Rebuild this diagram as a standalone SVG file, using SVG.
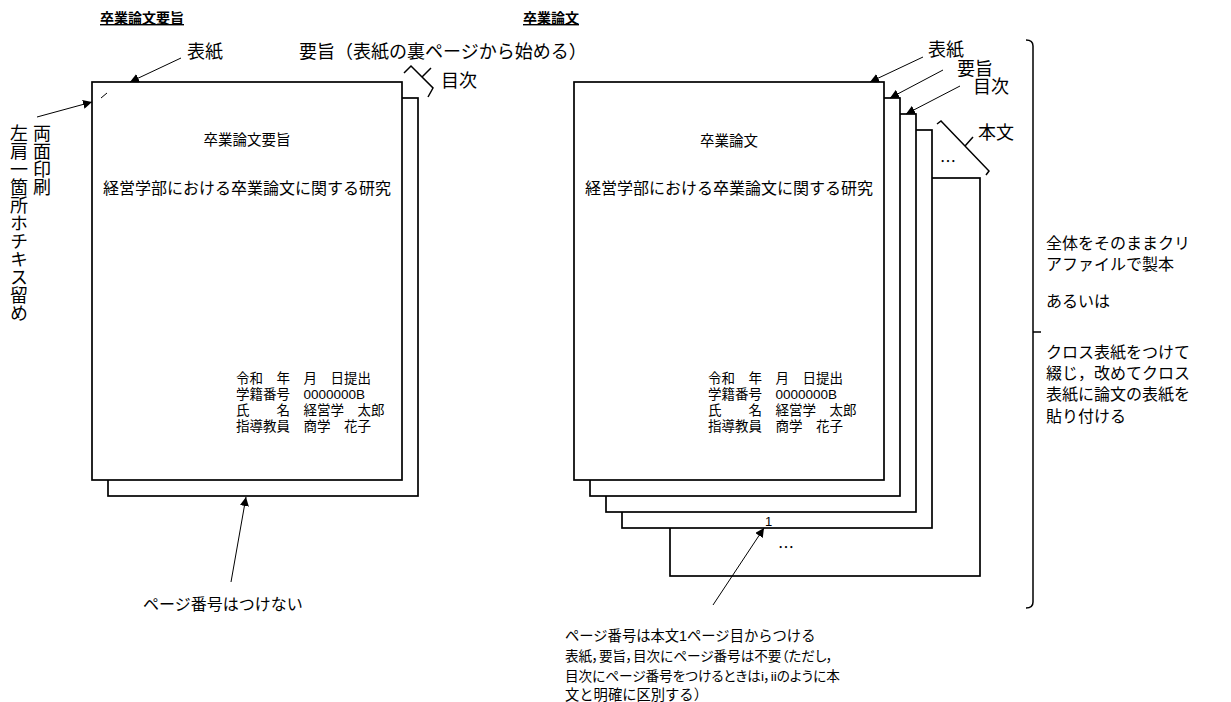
<svg xmlns="http://www.w3.org/2000/svg" width="1231" height="702" viewBox="0 0 1231 702">
<style>
text { font-family: "Liberation Sans", "Noto Sans CJK JP", sans-serif; fill: #000; }
.lbl { font-size: 18px; }
.lbl16 { font-size: 16px; }
.note { font-size: 14.3px; }
.notep { font-size: 13.6px; font-feature-settings: "palt"; }
.ttl { font-size: 14px; font-weight: bold; text-decoration: underline; }
.pt1 { font-size: 14.5px; text-anchor: middle; }
.pt2 { font-size: 16px; text-anchor: middle; }
.info { font-size: 13.5px; }
.vt { font-size: 18px; writing-mode: tb; }
.page { fill: #fff; stroke: #000; stroke-width: 1.7; }
.ln { stroke: #000; stroke-width: 1; fill: none; }
.br { stroke: #000; stroke-width: 1.5; fill: none; }
.dots { font-family: "Noto Sans CJK JP", sans-serif; font-size: 16px; text-anchor: middle; }
</style>
<defs>
<marker id="ah" viewBox="0 0 10 10" refX="10" refY="5" markerWidth="9" markerHeight="9" markerUnits="userSpaceOnUse" orient="auto">
<path d="M0,0 L10,5 L0,10 z" fill="#000"/>
</marker>
</defs>
<rect width="1231" height="702" fill="#fff"/>

<g id="title-left"><text class="ttl" x="100" y="23">卒業論文要旨</text></g>
<g id="title-right"><text class="ttl" x="523" y="23">卒業論文</text></g>

<g id="summary-doc">
<rect class="page" x="108" y="98" width="310" height="398"/>
<rect class="page" x="92" y="82" width="310" height="398"/>
<line class="ln" x1="101" y1="98" x2="107" y2="93"/>
<text class="pt1" x="247" y="145">卒業論文要旨</text>
<text class="pt2" x="247" y="194">経営学部における卒業論文に関する研究</text>
<text class="info" x="236" y="383">令和　年　月　日提出</text>
<text class="info" x="236" y="399">学籍番号　0000000B</text>
<text class="info" x="236" y="414.5">氏　　名　経営学　太郎</text>
<text class="info" x="236" y="430.5">指導教員　商学　花子</text>
</g>

<g id="thesis-doc">
<rect class="page" x="670" y="178" width="310" height="398"/>
<rect class="page" x="622" y="130" width="310" height="398"/>
<rect class="page" x="606" y="114" width="310" height="398"/>
<rect class="page" x="590" y="98" width="310" height="398"/>
<rect class="page" x="574" y="82" width="310" height="398"/>
<text class="pt1" x="729" y="146">卒業論文</text>
<text class="pt2" x="729" y="194">経営学部における卒業論文に関する研究</text>
<text class="info" x="708" y="383">令和　年　月　日提出</text>
<text class="info" x="708" y="399">学籍番号　0000000B</text>
<text class="info" x="708" y="414.5">氏　　名　経営学　太郎</text>
<text class="info" x="708" y="430.5">指導教員　商学　花子</text>
<text class="dots" x="948" y="167">…</text>
<text class="dots" x="786" y="553">…</text>
<text x="765" y="526" font-size="13" fill="#000">1</text>
</g>

<g id="label-cover-left"><text class="lbl" x="187" y="58">表紙</text></g>
<g id="label-summary-left"><text class="lbl" x="299" y="58">要旨（表紙の裏ページから始める）</text></g>
<g id="label-toc-left"><text class="lbl" x="441" y="87">目次</text></g>
<g id="label-staple">
<text class="vt" x="40" y="124">両面印刷</text>
<text class="vt" x="17" y="124">左肩一箇所ホチキス留め</text>
</g>
<g id="label-nopage"><text class="lbl16" x="143" y="610">ページ番号はつけない</text></g>

<g id="label-cover-right"><text class="lbl" x="928" y="56">表紙</text></g>
<g id="label-summary-right"><text class="lbl" x="957" y="75">要旨</text></g>
<g id="label-toc-right"><text class="lbl" x="973" y="93">目次</text></g>
<g id="label-body"><text class="lbl" x="978" y="139">本文</text></g>

<g id="label-pagenum">
<text class="note" x="565" y="641">ページ番号は本文1ページ目からつける</text>
<text class="notep" x="565" y="661">表紙，要旨，目次にページ番号は不要（ただし，</text>
<text class="notep" x="565" y="680.5">目次にページ番号をつけるときはi，iiのように本</text>
<text class="note" x="565" y="699.5">文と明確に区別する）</text>
</g>

<g id="label-binding" class="lbl16">
<text x="1046" y="249">全体をそのままクリ</text>
<text x="1046" y="270">アファイルで製本</text>
<text x="1046" y="307">あるいは</text>
<text x="1046" y="358">クロス表紙をつけて</text>
<text x="1046" y="379">綴じ，改めてクロス</text>
<text x="1046" y="400">表紙に論文の表紙を</text>
<text x="1046" y="422">貼り付ける</text>
</g>

<g id="connectors">
<line class="ln" x1="181" y1="58" x2="130" y2="82" marker-end="url(#ah)"/>
<line class="ln" x1="37" y1="117" x2="92" y2="102" marker-end="url(#ah)"/>
<line class="ln" x1="231" y1="582" x2="246" y2="497" marker-end="url(#ah)"/>
<line class="ln" x1="923" y1="57" x2="870" y2="82" marker-end="url(#ah)"/>
<line class="ln" x1="943" y1="70" x2="890" y2="98" marker-end="url(#ah)"/>
<line class="ln" x1="960" y1="86" x2="906" y2="114" marker-end="url(#ah)"/>
<line class="ln" x1="713" y1="605" x2="764" y2="528" marker-end="url(#ah)"/>
<path class="br" d="M404,73 L411,66 L433,88 L428,97 M422,77 L431,68"/>
<path class="br" d="M937,124 L941,121 L989,171 L986,175 M965,146 L973,137"/>
<path class="br" d="M1026,40 Q1033,40 1033,46 L1033,602 Q1033,608 1026,608 M1033,332 L1041,332"/>
</g>
</svg>
